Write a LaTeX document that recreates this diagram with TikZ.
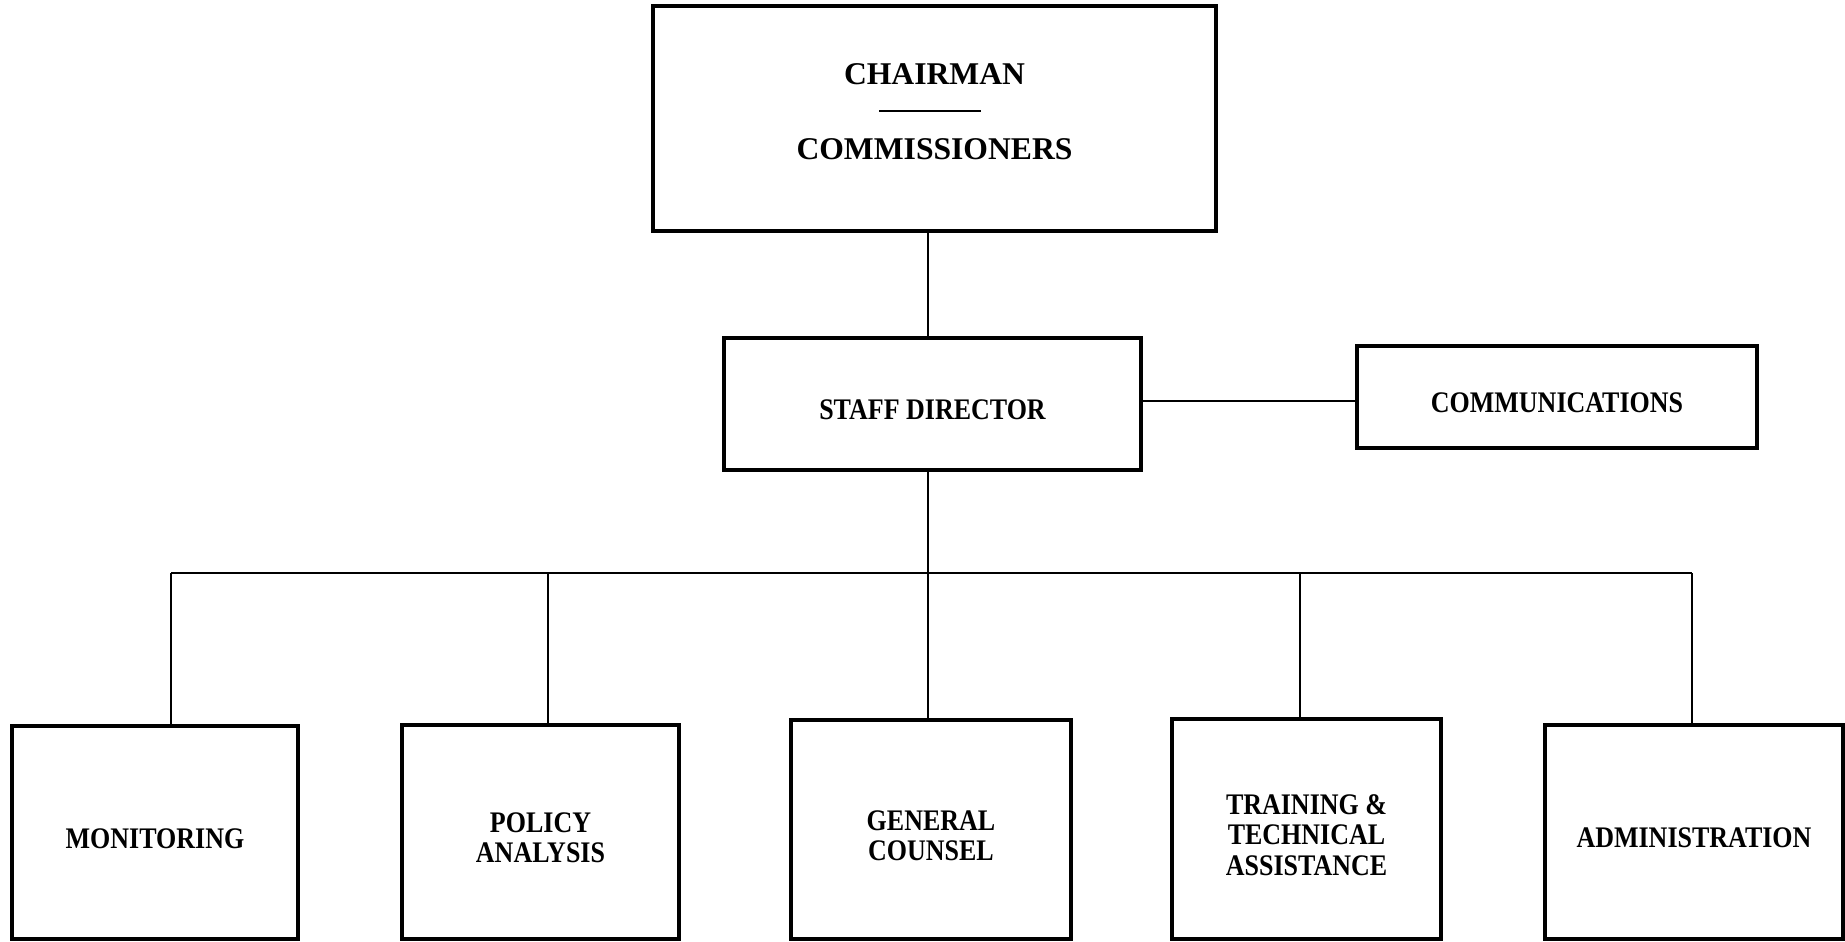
\documentclass[tikz,border=0pt]{standalone}
\usepackage{fontspec}
\setmainfont{Liberation Serif}
\newfontfamily\orgfont[FakeStretch=0.87]{Liberation Serif}
\begin{document}
\begin{tikzpicture}[
    box/.style={draw, line width=1pt, inner sep=0pt},
    boxtext/.style={align=center, yshift=-0.06cm,
                font=\orgfont\fontsize{8.5}{8.6}\selectfont\bfseries},
    link/.style={line width=0.8pt}
  ]
  \useasboundingbox (0,0) rectangle (18.45,-9.41);

  \node (chair) at (9.345,-1.185) [box, minimum width=5.63cm, minimum height=2.25cm] {};
  \node (chairtxt) at (9.345,-0.74) [font=\fontsize{9}{10}\selectfont\bfseries] {CHAIRMAN};
  \node (chairrule) at (9.30,-1.11) [inner sep=0pt] {\rule{1.02cm}{0.5pt}};
  \node (commtxt) at (9.345,-1.49) [font=\fontsize{9}{10}\selectfont\bfseries] {COMMISSIONERS};

  \node (staff) at (9.325,-4.04) [box, minimum width=4.17cm, minimum height=1.32cm] {};
  \node (comms) at (15.57,-3.97) [box, minimum width=4.0cm, minimum height=1.02cm] {};

  \node (mon) at (1.55,-8.325) [box, minimum width=2.86cm, minimum height=2.13cm] {};
  \node (pol) at (5.405,-8.32) [box, minimum width=2.77cm, minimum height=2.14cm] {};
  \node (gen) at (9.31,-8.295) [box, minimum width=2.80cm, minimum height=2.19cm] {};
  \node (train) at (13.065,-8.29) [box, minimum width=2.69cm, minimum height=2.20cm] {};
  \node (adm) at (16.94,-8.32) [box, minimum width=2.98cm, minimum height=2.14cm] {};

  % bus line below the staff director
  \coordinate (b1) at (1.71,-5.73);
  \coordinate (b2) at (5.48,-5.73);
  \coordinate (b3) at (9.28,-5.73);
  \coordinate (b4) at (13.00,-5.73);
  \coordinate (b5) at (16.92,-5.73);

  \path [link]
    (chair.south -| b3) edge (staff.north -| b3)
    ([yshift=0.03cm]staff.east) edge ([yshift=0.03cm]staff.east -| comms.west)
    (staff.south -| b3) edge (b3)
    (b1) edge (b5)
    (b1) edge (b1 |- mon.north)
    (b2) edge (b2 |- pol.north)
    (b3) edge (b3 |- gen.north)
    (b4) edge (b4 |- train.north)
    (b5) edge (b5 |- adm.north)
  ;

  \node (stafftxt) [boxtext] at (staff) {STAFF DIRECTOR};
  \node (commstxt) [boxtext] at (comms) {COMMUNICATIONS};
  \node (montxt) [boxtext] at (mon) {MONITORING};
  \node (poltxt) [boxtext] at (pol) {POLICY\\ANALYSIS};
  \node (gentxt) [boxtext] at (gen) {GENERAL\\COUNSEL};
  \node (traintxt) [boxtext] at (train) {TRAINING \&\\TECHNICAL\\ASSISTANCE};
  \node (admtxt) [boxtext] at (adm) {ADMINISTRATION};
\end{tikzpicture}
\end{document}
